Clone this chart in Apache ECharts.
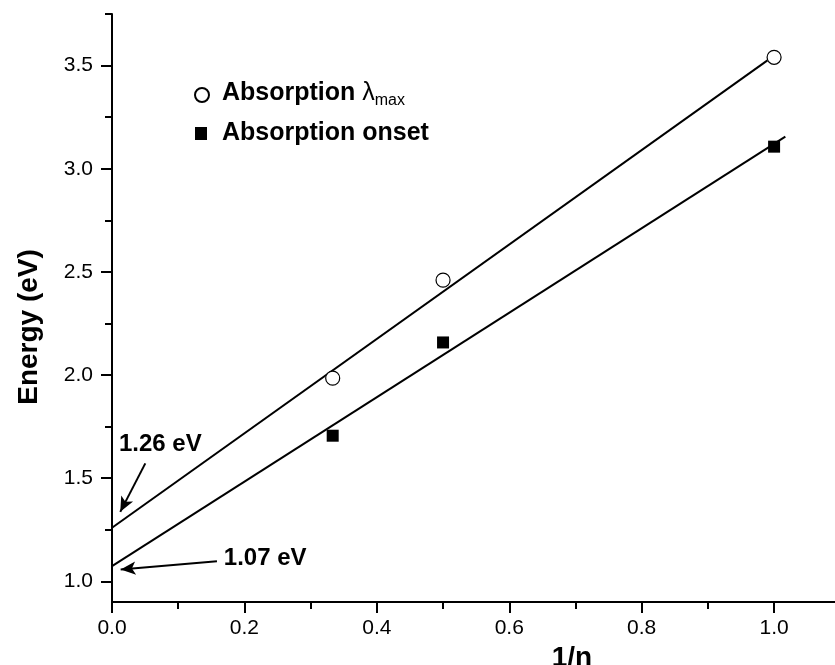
<!DOCTYPE html>
<html><head><meta charset="utf-8">
<script src="https://cdn.jsdelivr.net/npm/echarts@6/dist/echarts.min.js"></script>
<style>html,body{margin:0;padding:0;background:#fff}#c{width:835px;height:665px}</style>
</head><body><div id="c"></div>
<script>
// ---- data ----
const xMajorTicks = [0, 0.2, 0.4, 0.6, 0.8, 1.0];
const xMinorTicks = [0.1, 0.3, 0.5, 0.7, 0.9];
const yMajorTicks = [1.0, 1.5, 2.0, 2.5, 3.0, 3.5];
const yMinorTicks = [1.25, 1.75, 2.25, 2.75, 3.25, 3.75];

const seriesNames = ['Absorption λmax', 'Absorption onset'];
const lambdaMaxPoints = [[1/3, 1.985], [0.5, 2.46], [1.0, 3.54]];
const onsetPoints = [[1/3, 1.706], [0.5, 2.158], [1.0, 3.107]];
const lambdaMaxFit = [[0, 1.26], [0.99, 3.525]];
const onsetFit = [[0, 1.074], [1.017, 3.156]];

const annotationTexts = ['1.26 eV', '1.07 eV'];
const annotationTextAt = [[0.073, 1.666], [0.2314, 1.112]];
const arrowUpper = [[0.0503, 1.572], [0.0125, 1.337]];
const arrowLower = [[0.1585, 1.097], [0.0131, 1.058]];

const FONT = '"Liberation Sans", Arial, sans-serif';

const chart = echarts.init(document.getElementById('c'), null, {renderer: 'canvas'});

const legendRich = {
  a: {fontFamily: FONT, fontSize: 25, fontWeight: 'bold', color: '#000', padding: [0, 0, 3, 0]},
  l: {fontFamily: FONT, fontSize: 25, fontWeight: 'normal', color: '#000', padding: [0, 0, 3, 0]},
  s: {fontFamily: FONT, fontSize: 16, fontWeight: 'normal', color: '#000', verticalAlign: 'bottom'}
};

const option = {
  animation: false,
  backgroundColor: '#fff',
  grid: {left: 112, right: 0, top: 14, bottom: 63, containLabel: false, outerBoundsMode: 'none'},
  xAxis: [{
    type: 'value', min: 0, max: 1.092,
    name: '1/n', nameLocation: 'middle', nameGap: 38,
    nameTextStyle: {fontFamily: FONT, fontSize: 28, fontWeight: 'bold', color: '#000', padding: [0, 0, 0, 197]},
    axisLine: {show: true, lineStyle: {color: '#000', width: 2}},
    axisTick: {show: true, customValues: xMajorTicks, length: 11, lineStyle: {color: '#000', width: 2}},
    axisLabel: {show: true, customValues: xMajorTicks, margin: 16, fontFamily: FONT, fontSize: 21, color: '#000',
      formatter: v => v.toFixed(1)},
    splitLine: {show: false}
  }, {
    type: 'value', min: 0, max: 1.092, position: 'bottom',
    axisLine: {show: false},
    axisTick: {show: true, customValues: xMinorTicks, length: 7, lineStyle: {color: '#000', width: 2}},
    axisLabel: {show: false},
    splitLine: {show: false}
  }],
  yAxis: [{
    type: 'value', min: 0.9, max: 3.75,
    name: 'Energy (eV)', nameLocation: 'middle', nameGap: 69, nameRotate: 90,
    nameTextStyle: {fontFamily: FONT, fontSize: 28, fontWeight: 'bold', color: '#000', padding: [0, 38, 0, 0]},
    axisLine: {show: true, lineStyle: {color: '#000', width: 2}},
    axisTick: {show: true, customValues: yMajorTicks, length: 11, lineStyle: {color: '#000', width: 2}},
    axisLabel: {show: true, customValues: yMajorTicks, margin: 19, fontFamily: FONT, fontSize: 21, color: '#000',
      formatter: v => v.toFixed(1)},
    splitLine: {show: false}
  }, {
    type: 'value', min: 0.9, max: 3.75, position: 'left',
    axisLine: {show: false},
    axisTick: {show: true, customValues: yMinorTicks, length: 7, lineStyle: {color: '#000', width: 2}},
    axisLabel: {show: false},
    splitLine: {show: false}
  }],
  legend: [{
    data: [{name: seriesNames[0], icon: 'circle'}],
    orient: 'vertical', left: 194, top: 81, padding: 0,
    itemWidth: 14, itemHeight: 14,
    selectedMode: false,
    formatter: () => '{a|Absorption }{l|λ}{s|max}',
    textStyle: {rich: legendRich, padding: [0, 0, 0, 8]}
  }, {
    data: [{name: seriesNames[1], icon: 'rect'}],
    orient: 'vertical', left: 195, top: 121, padding: 0,
    itemWidth: 12, itemHeight: 13,
    selectedMode: false,
    textStyle: {fontFamily: FONT, fontSize: 25, fontWeight: 'bold', color: '#000', padding: [0, 0, 0, 10]}
  }],
  series: [
    {
      name: 'fit λmax', type: 'line', xAxisIndex: 0, yAxisIndex: 0, data: lambdaMaxFit,
      symbol: 'none', lineStyle: {color: '#000', width: 2}, silent: true, z: 2
    },
    {
      name: 'fit onset', type: 'line', xAxisIndex: 0, yAxisIndex: 0, data: onsetFit,
      symbol: 'none', lineStyle: {color: '#000', width: 2}, silent: true, z: 2
    },
    {
      name: 'annotations', type: 'line', xAxisIndex: 0, yAxisIndex: 0, data: [], silent: true, z: 3,
      markLine: {
        silent: true, animation: false,
        symbol: ['none', 'arrow'], symbolSize: [10, 15],
        lineStyle: {color: '#000', width: 2, type: 'solid'},
        label: {show: false},
        data: [
          [{coord: arrowUpper[0]}, {coord: arrowUpper[1]}],
          [{coord: arrowLower[0]}, {coord: arrowLower[1]}]
        ]
      },
      markPoint: {
        silent: true, animation: false,
        symbol: 'circle', symbolSize: 1, itemStyle: {color: 'rgba(0,0,0,0)'},
        label: {show: true, position: 'inside', formatter: p => p.name,
          fontFamily: FONT, fontSize: 24, fontWeight: 'bold', color: '#000'},
        data: annotationTexts.map((t, i) => ({name: t, coord: annotationTextAt[i]}))
      }
    },
    {
      name: seriesNames[0], type: 'scatter', xAxisIndex: 0, yAxisIndex: 0, data: lambdaMaxPoints,
      symbol: 'circle', symbolSize: 14,
      itemStyle: {color: '#fff', borderColor: '#000', borderWidth: 1.2, opacity: 1}, z: 5
    },
    {
      name: seriesNames[1], type: 'scatter', xAxisIndex: 0, yAxisIndex: 0, data: onsetPoints,
      symbol: 'rect', symbolSize: 12,
      itemStyle: {color: '#000', opacity: 1}, z: 5
    }
  ]
};
chart.setOption(option);
</script>
</body></html>
